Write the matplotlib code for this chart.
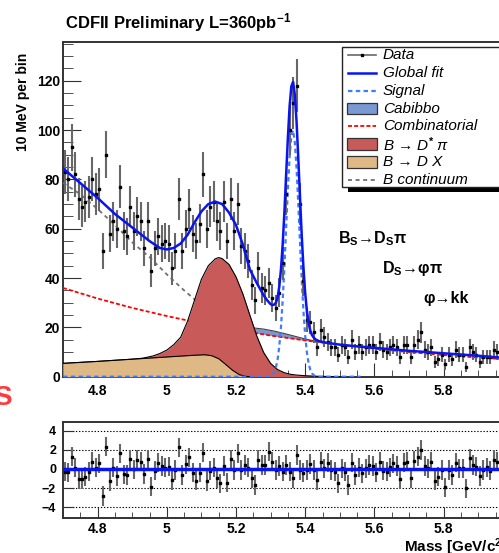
import numpy as np
import matplotlib
matplotlib.use("Agg")
import matplotlib.pyplot as plt
from matplotlib.patches import Rectangle
from matplotlib.lines import Line2D
from matplotlib.ticker import MultipleLocator

plt.rcParams["font.family"] = ["Liberation Sans", "DejaVu Sans"]
plt.rcParams["font.weight"] = "bold"
plt.rcParams["mathtext.fontset"] = "custom"
plt.rcParams["mathtext.rm"] = "Liberation Sans"
plt.rcParams["mathtext.bf"] = "Liberation Sans:bold"
plt.rcParams["mathtext.it"] = "Liberation Sans:italic"

# histogram: 10 MeV bins starting at 4.70 GeV
bin_start = 4.70
bin_width = 0.01
counts = [83, 80, 93, 82, 72, 69, 71, 73, 80, 74,
          76, 51, 90, 58, 63, 60, 77, 59, 57, 69,
          59, 65, 63, 52, 63, 43, 52, 57, 54, 55,
          54, 44, 51, 72, 51, 60, 68, 58, 55, 62,
          82, 60, 69, 71, 63, 59, 71, 55, 72, 59,
          70, 53, 51, 47, 37, 31, 44, 36, 35, 38,
          32, 28, 34, 46, 74, 100, 111, 118, 70, 39,
          23, 22, 18, 12, 19, 16, 14, 12, 12, 9,
          13, 12, 8, 15, 10, 13, 10, 12, 13, 13,
          10, 14, 11, 10, 12, 13, 12, 8, 13, 13,
          8, 13, 15, 18, 11, 10, 12, 6, 7, 9,
          5, 9, 7, 11, 9, 9, 4, 12, 10, 9,
          6, 8, 8, 8, 11, 10]

pulls = [-0.28, -0.35, 1.29, 0.14, -1.04, -1.04, -0.8, -0.28, 0.77, 0.14,
         0.59, -2.82, 2.33, -1.25, 0.14, -0.73, 1.63, -0.56, -0.63, 1.01,
         -0.03, 0.94, 0.77, -0.52, 1.01, -1.84, -0.17, 0.66, 0.31, 0.14,
         0.24, -1.15, -0.1, 2.26, -0.63, 0.49, 1.22, -0.38, -1.22, -0.38,
         1.7, -1.25, -0.2, 0.14, -0.97, -1.5, 0.31, -1.43, 1.01, -0.1,
         1.63, -0.1, 0.42, 0.14, -0.97, -1.67, 0.94, 0.42, 0.42, 1.81,
         0.77, -0.1, 0.31, -0.28, 0.42, -0.28, -0.97, 1.46, -0.1, -0.38,
         -0.1, 0.52, -0.1, -1.15, 0.77, 0.07, 0.66, -0.1, -0.28, -1.5,
         0.07, -0.28, -1.67, 0.66, -0.63, 0.14, -0.45, 0.07, 0.42, 0.31,
         -0.38, 0.77, -0.17, -0.28, 0.17, 0.59, 0.31, -1.08, 0.66, 0.77,
         -0.97, 0.87, 1.29, 1.98, 0.31, 0.07, 0.77, -1.22, -0.8, -0.1,
         -1.91, -0.1, -0.63, 0.66, 0.07, 0.07, -2.01, 1.11, 0.42, 0.24,
         -0.73, -0.1, 0.17, -0.17, 0.94, 0.77]

# fit components
fit_x = [4.70, 4.75, 4.80, 4.85, 4.90, 4.95, 4.98, 5.00, 5.02, 5.04, 5.06, 5.08,
         5.10, 5.12, 5.14, 5.16, 5.18, 5.20, 5.22, 5.24, 5.26, 5.28, 5.29,
         5.300, 5.305, 5.310, 5.315, 5.320, 5.325, 5.330, 5.335, 5.340, 5.345,
         5.350, 5.355, 5.360, 5.365, 5.370, 5.375, 5.380, 5.385, 5.390, 5.395,
         5.400, 5.405, 5.410, 5.415, 5.420, 5.425, 5.430, 5.44, 5.46, 5.50,
         5.55, 5.60, 5.65, 5.70, 5.75, 5.80, 5.85, 5.90, 5.95, 6.00]
fit_y = [84.5, 78.5, 72.5, 66.0, 60.5, 55.0, 52.2, 51.6, 52.2, 54.0, 57.5, 62.5,
         67.0, 70.0, 71.0, 70.0, 66.5, 61.5, 53.5, 43.5, 38.0, 33.0, 31.0,
         29.4, 29.1, 29.2, 29.9, 32.0, 36.4, 43.6, 53.8, 67.0, 82.1,
         97.1, 109.8, 117.8, 119.5, 114.3, 103.5, 88.7, 72.6, 57.2, 44.0,
         33.8, 26.5, 21.6, 18.6, 16.8, 15.8, 15.1, 14.4, 13.8, 13.0,
         12.3, 11.7, 11.1, 10.5, 10.0, 9.5, 9.0, 8.5, 7.9, 7.5]

sig_x = [4.70, 5.28, 5.300, 5.305, 5.310, 5.315, 5.320, 5.325, 5.330, 5.335,
         5.340, 5.345, 5.350, 5.355, 5.360, 5.365, 5.370, 5.375, 5.380, 5.385,
         5.390, 5.395, 5.400, 5.405, 5.410, 5.415, 5.420, 5.425, 5.430, 5.44, 5.56]
sig_y = [0.0, 0.0, 0.3, 0.8, 1.8, 3.6, 6.8, 12.2, 20.2, 31.2,
         45.0, 60.7, 76.2, 89.4, 97.8, 99.9, 95.1, 84.6, 70.1, 54.3,
         39.2, 26.4, 16.6, 9.7, 5.3, 2.7, 1.3, 0.6, 0.2, 0.0, 0.0]

comb_x = [4.7, 4.8, 4.9, 5.0, 5.1, 5.2, 5.3, 5.4, 5.5, 5.6, 5.7, 5.8, 5.9, 6.0]
comb_y = [36.0, 31.7, 27.9, 24.6, 21.6, 19.0, 16.7, 14.7, 12.95, 11.4, 10.0, 8.8, 7.77, 6.84]

cab_x = [5.15, 5.20, 5.25, 5.28, 5.31, 5.34, 5.37, 5.40, 5.43, 5.46]
cab_lo = [20.3, 19.0, 17.8, 17.2, 16.5, 15.9, 15.3, 14.7, 14.2, 13.6]
cab_hi = [20.8, 20.5, 19.8, 19.3, 18.5, 17.5, 16.4, 15.3, 14.4, 13.6]

dstar_x = [4.70, 4.80, 4.90, 4.93, 4.96, 4.98, 5.00, 5.02, 5.04, 5.06, 5.08, 5.10,
           5.12, 5.14, 5.15, 5.16, 5.18, 5.20, 5.22, 5.24, 5.26, 5.28, 5.30,
           5.32, 5.34, 5.36, 5.38, 5.40, 5.44, 5.50]
dstar_y = [5.4, 6.2, 7.1, 7.5, 8.4, 9.4, 10.8, 13.0, 16.0, 22.5, 31.0, 39.5,
           45.0, 47.8, 48.3, 47.9, 45.5, 40.5, 33.5, 25.0, 16.5, 9.8, 5.4,
           2.9, 1.6, 0.9, 0.6, 0.4, 0.15, 0.0]

dx_x = [4.70, 4.80, 4.90, 5.00, 5.08, 5.11, 5.13, 5.15, 5.17, 5.19, 5.21, 5.23, 5.25]
dx_y = [5.4, 6.2, 7.1, 8.0, 8.7, 8.9, 8.5, 7.3, 5.0, 2.6, 0.8, 0.1, 0.0]

cont_x = [4.70, 4.75, 4.80, 4.85, 4.90, 4.95, 5.00, 5.05, 5.10, 5.15]
cont_y = [78.6, 74.0, 68.0, 61.5, 54.5, 48.5, 41.5, 35.0, 29.0, 25.0]

C_RED = "#c85a5a"
C_TAN = "#dfb985"
C_CAB = "#7a98d2"
C_FIT = "#0a14f0"
C_SIG = "#3f7bff"
C_ERR = "#676767"

W, H = 499, 553
fig = plt.figure(figsize=(W / 100, H / 100), dpi=100)


def fig_box(x0, y_top, x1, y_bot):
    # pixel box (top-left origin) -> figure fraction rect
    return [x0 / W, 1 - y_bot / H, (x1 - x0) / W, (y_bot - y_top) / H]


n = len(counts)
centers = bin_start + bin_width * (np.arange(n) + 0.5)
counts_arr = np.array(counts, dtype=float)

# ---- main panel ----
ax = fig.add_axes(fig_box(63, 42.3, 512.8, 376.7))
ax.fill_between(cab_x, cab_lo, cab_hi, color=C_CAB, lw=0, zorder=2)
ax.plot(cab_x, cab_hi, color="#404040", lw=0.8, zorder=2)
ax.plot(comb_x, comb_y, color="red", lw=1.3, ls=(0, (2.2, 1.2)), zorder=3)
ax.plot(cont_x, cont_y, color="#707070", lw=1.3, ls=(0, (2.2, 2)), zorder=3)
ax.fill_between(dstar_x, 0, dstar_y, color=C_RED, lw=0, zorder=4)
ax.plot(dstar_x, dstar_y, color="black", lw=0.8, zorder=4)
ax.fill_between(dx_x, 0, dx_y, color=C_TAN, lw=0, zorder=5)
ax.plot(dx_x, dx_y, color="black", lw=0.8, zorder=5)
ax.plot(sig_x, sig_y, color=C_SIG, lw=1.6, ls=(0, (2, 1.5)), zorder=6)
ax.errorbar(centers, counts_arr, yerr=np.sqrt(counts_arr), fmt="s", ms=1.7,
            color="black", ecolor=C_ERR, elinewidth=1.5, capsize=0, zorder=7)
ax.plot(fit_x, fit_y, color=C_FIT, lw=1.8, zorder=8)

ax.set_xlim(4.70, 6.00)
ax.set_ylim(0, 135.6)
ax.yaxis.set_major_locator(MultipleLocator(20))
ax.yaxis.set_minor_locator(MultipleLocator(5))
ax.xaxis.set_major_locator(MultipleLocator(0.2))
ax.xaxis.set_minor_locator(MultipleLocator(0.05))
ax.tick_params(which="both", direction="in", colors="#333333", labelcolor="black",
               labelsize=10)
ax.tick_params(axis="y", which="major", length=13, pad=2)
ax.tick_params(axis="y", which="minor", length=7)
ax.tick_params(axis="x", which="major", length=10, pad=5)
ax.tick_params(axis="x", which="minor", length=5)
ax.set_xticks([4.8, 5.0, 5.2, 5.4, 5.6, 5.8])
ax.set_xticklabels(["4.8", "5", "5.2", "5.4", "5.6", "5.8"])
for s in ax.spines.values():
    s.set_color("#333333")
    s.set_linewidth(1.4)

ax.text(97, 93, r"N of B$_\mathbf{S}$ : 472 $\pm$ 27", transform=None, fontsize=12.5,
        fontweight="bold")

# ---- pull panel ----
axr = fig.add_axes(fig_box(63, 421.7, 512.8, 518.3))
for g in [-4, -2, 2, 4]:
    axr.axhline(g, color="black", lw=0.8, ls=(0, (1.2, 1.6)), zorder=1)
axr.errorbar(centers, pulls, yerr=1.0, fmt="s", ms=1.7, color="black",
             ecolor=C_ERR, elinewidth=1.5, capsize=0, zorder=3)
axr.axhline(0, color=C_FIT, lw=2.5, zorder=4)
axr.set_xlim(4.70, 6.00)
axr.set_ylim(-5.15, 4.94)
axr.set_yticks([-4, -2, 0, 2, 4])
axr.xaxis.set_major_locator(MultipleLocator(0.2))
axr.xaxis.set_minor_locator(MultipleLocator(0.05))
axr.set_xticks([4.8, 5.0, 5.2, 5.4, 5.6, 5.8])
axr.set_xticklabels(["4.8", "5", "5.2", "5.4", "5.6", "5.8"])
axr.tick_params(which="both", direction="in", colors="#333333", labelcolor="black",
                labelsize=10)
axr.tick_params(axis="y", which="major", length=8, pad=5, labelsize=9)
axr.tick_params(axis="x", which="major", length=8, pad=3)
axr.tick_params(axis="x", which="minor", length=4)
for s in axr.spines.values():
    s.set_color("#333333")
    s.set_linewidth(1.4)

# ---- overlay in pixel coordinates: title, labels, legend ----
ov = fig.add_axes([0, 0, 1, 1], facecolor="none")
ov.set_xlim(0, W)
ov.set_ylim(H, 0)
ov.axis("off")

ov.text(65, 28, r"CDFII Preliminary L=360pb$^\mathbf{-1}$", fontsize=12, fontweight="bold")
ov.text(23, 102, "10 MeV per bin", rotation=90, ha="center", va="center",
        fontsize=10, fontweight="bold")
# the reference crops this label at the right and bottom edges
ov.text(404, 552, r"Mass [GeV/c$^\mathbf{2}$]", fontsize=11, fontweight="bold")
ov.text(338, 243, r"B$_\mathbf{S}$→D$_\mathbf{S}$π", fontsize=11.5, fontweight="bold")
ov.text(382, 273, r"D$_\mathbf{S}$→φπ", fontsize=11.5, fontweight="bold")
ov.text(423, 303, "φ→kk", fontsize=11.5, fontweight="bold")
# stray red glyph fragment at the left edge of the reference
ov.text(-7, 405, "S", fontsize=20, fontweight="bold", color="#ff3a3a")

# legend box with solid shadow
ov.add_patch(Rectangle((348, 187), 200, 5, color="black", lw=0, zorder=1))
ov.add_patch(Rectangle((342.5, 46.5), 200, 140.8, facecolor="white",
                       edgecolor="#222222", lw=1.0, zorder=2))
rows = 55.2 + 17.8 * np.arange(8)
hx0, hx1 = 348, 376


def leg_line(y, **kw):
    ov.add_line(Line2D([hx0, hx1], [y, y], zorder=3, **kw))


def leg_box(y, color):
    ov.add_patch(Rectangle((hx0 - 1, y - 5.8), hx1 - hx0 + 2, 11.6, facecolor=color,
                           edgecolor="#333333", lw=0.9, zorder=3))


leg_line(rows[0], color=C_ERR, lw=1.2)
ov.plot([(hx0 + hx1) / 2], [rows[0]], "s", ms=1.8, color="black", zorder=4)
leg_line(rows[1], color=C_FIT, lw=1.8)
leg_line(rows[2], color=C_SIG, lw=1.6, ls=(0, (2, 1.5)))
leg_box(rows[3], C_CAB)
leg_line(rows[4], color="red", lw=1.3, ls=(0, (2.2, 1.2)))
leg_box(rows[5], C_RED)
leg_box(rows[6], C_TAN)
leg_line(rows[7], color="#707070", lw=1.3, ls=(0, (2.2, 2)))

labels = ["Data", "Global fit", "Signal", "Cabibbo", "Combinatorial",
          r"B → D$^{*}$ π", "B → D X", "B continuum"]
for y, lab in zip(rows, labels):
    ov.text(383, y, lab, fontsize=11, fontstyle="italic", fontweight="normal",
            va="center", zorder=4)

fig.savefig("out.png", dpi=100)
